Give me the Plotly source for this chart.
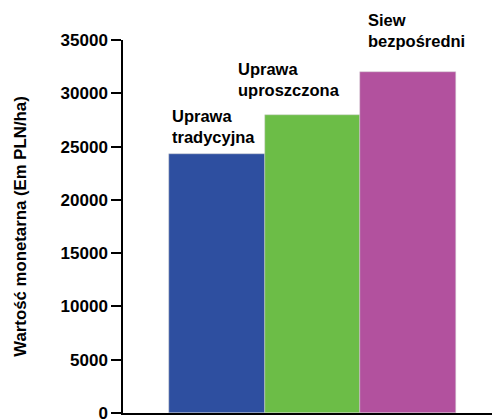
"""Wartość monetarna wg systemu uprawy"""
import plotly.graph_objects as go

# dane
categories = ["Uprawa<br>tradycyjna", "Uprawa<br>uproszczona", "Siew<br>bezpośredni"]
values = [24300, 28000, 32000]
colors = ["#2E4FA0", "#6CBD47", "#B2519E"]
y_ticks = [0, 5000, 10000, 15000, 20000, 25000, 30000, 35000]

FONT = "Liberation Sans, Arial, sans-serif"

fig = go.Figure()

fig.add_trace(
    go.Bar(
        x=list(range(len(values))),
        y=values,
        width=1,
        marker=dict(color=colors, line=dict(color="#d0d0d0", width=0.5)),
        showlegend=False,
        hoverinfo="skip",
    )
)

# etykiety nad słupkami (przesunięcie w poziomie względem środka słupka)
label_dx = [-0.49, -0.8, -0.44]
label_shift = [6, 14, 20]
for i, (txt, v) in enumerate(zip(categories, values)):
    fig.add_annotation(
        x=i + label_dx[i], y=v,
        xref="x", yref="y",
        text="<b>" + txt + "</b>",
        showarrow=False,
        xanchor="left", yanchor="bottom",
        align="left",
        yshift=label_shift[i],
        font=dict(family=FONT, size=16.5, color="black"),
    )

# strona ma margines 8px, więc figura jest o tyle mniejsza
fig.update_layout(
    width=492, height=418,
    margin=dict(l=115, r=0, t=32, b=13),
    paper_bgcolor="white",
    plot_bgcolor="white",
    bargap=0,
    xaxis=dict(
        range=[-0.98, 2.96],
        showline=True, linecolor="black", linewidth=1.5,
        showticklabels=False, ticks="", showgrid=False, zeroline=False,
    ),
    yaxis=dict(
        range=[0, 35000],
        tickvals=y_ticks,
        ticktext=["<b>%d</b>" % t for t in y_ticks],
        ticks="outside", ticklen=10, tickwidth=1.5, tickcolor="black",
        ticklabeloverflow="allow",
        showline=True, linecolor="black", linewidth=1.5,
        showgrid=False, zeroline=False,
        tickfont=dict(family=FONT, size=17, color="black"),
        title=dict(text="<b>Wartość monetarna (Em PLN/ha)</b>",
                   font=dict(family=FONT, size=16.8, color="black"), standoff=30),
    ),
)

fig.write_html("out.html")
